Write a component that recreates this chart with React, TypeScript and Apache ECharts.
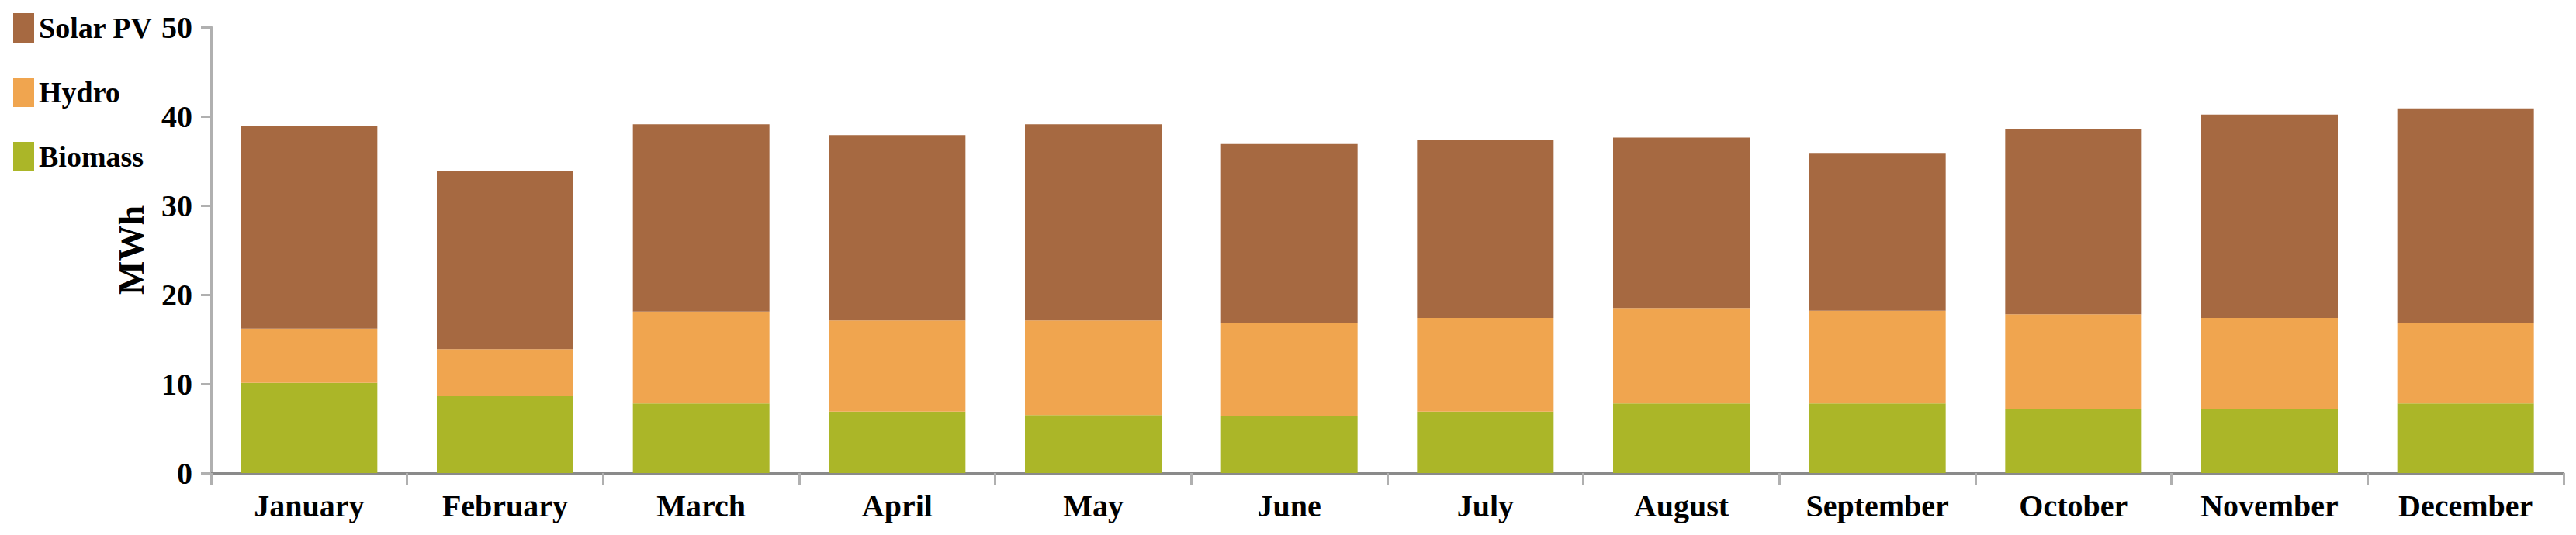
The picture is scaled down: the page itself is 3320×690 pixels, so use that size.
import React, { useEffect, useRef } from "react";
import * as echarts from "echarts";

const months = ["January", "February", "March", "April", "May", "June", "July", "August", "September", "October", "November", "December"];
const biomass = [10.1, 8.6, 7.8, 6.9, 6.5, 6.4, 6.9, 7.8, 7.8, 7.2, 7.2, 7.8];
const hydro = [6.1, 5.3, 10.3, 10.2, 10.6, 10.4, 10.5, 10.7, 10.4, 10.6, 10.2, 9.0];
const solarPV = [22.7, 20.0, 21.0, 20.8, 22.0, 20.1, 19.9, 19.1, 17.7, 20.8, 22.8, 24.1];
const yTicks = { min: 0, max: 50, interval: 10 };

const FONT = "Liberation Serif";

export default function App() {
  const ref = useRef<HTMLDivElement>(null);
  useEffect(() => {
    if (!ref.current) return;
    const chart = echarts.init(ref.current, null, { renderer: "svg" });
    const textStyle = { fontFamily: FONT, fontWeight: "bold" as const, color: "#000" };
    chart.setOption({
      animation: false,
      backgroundColor: "#fff",
      textStyle: { fontFamily: FONT },
      legend: {
        orient: "vertical",
        left: 12,
        top: 12,
        itemWidth: 27,
        itemHeight: 38,
        itemGap: 45,
        icon: "rect",
        data: ["Solar PV", "Hydro", "Biomass"],
        textStyle: { ...textStyle, fontSize: 38, padding: [0, 0, 0, 1] },
      },
      grid: { left: 272, right: 16, top: 35, bottom: 80, containLabel: false },
      xAxis: {
        type: "category",
        data: months,
        axisLine: { lineStyle: { color: "#8a8a8a", width: 3 } },
        axisTick: { show: true, length: 15, lineStyle: { color: "#b0b0b0", width: 3 } },
        axisLabel: { ...textStyle, fontSize: 40, margin: 22 },
      },
      yAxis: {
        type: "value",
        min: yTicks.min,
        max: yTicks.max,
        interval: yTicks.interval,
        name: "MWh",
        nameLocation: "middle",
        nameGap: 80,
        nameRotate: 90,
        nameTextStyle: { ...textStyle, fontSize: 46 },
        splitLine: { show: false },
        axisLine: { show: true, lineStyle: { color: "#b0b0b0", width: 3 } },
        axisTick: { show: true, length: 13, lineStyle: { color: "#b0b0b0", width: 3 } },
        axisLabel: { ...textStyle, fontSize: 40, margin: 24 },
      },
      series: [
        { name: "Biomass", type: "bar", stack: "total", data: biomass, barWidth: 176, itemStyle: { color: "#ABB628" } },
        { name: "Hydro", type: "bar", stack: "total", data: hydro, barWidth: 176, itemStyle: { color: "#F0A54F" } },
        { name: "Solar PV", type: "bar", stack: "total", data: solarPV, barWidth: 176, itemStyle: { color: "#A66941" } },
      ],
    });
    return () => chart.dispose();
  }, []);
  return <div ref={ref} style={{ position: "fixed", left: 0, top: 0, width: 3320, height: 690 }} />;
}
